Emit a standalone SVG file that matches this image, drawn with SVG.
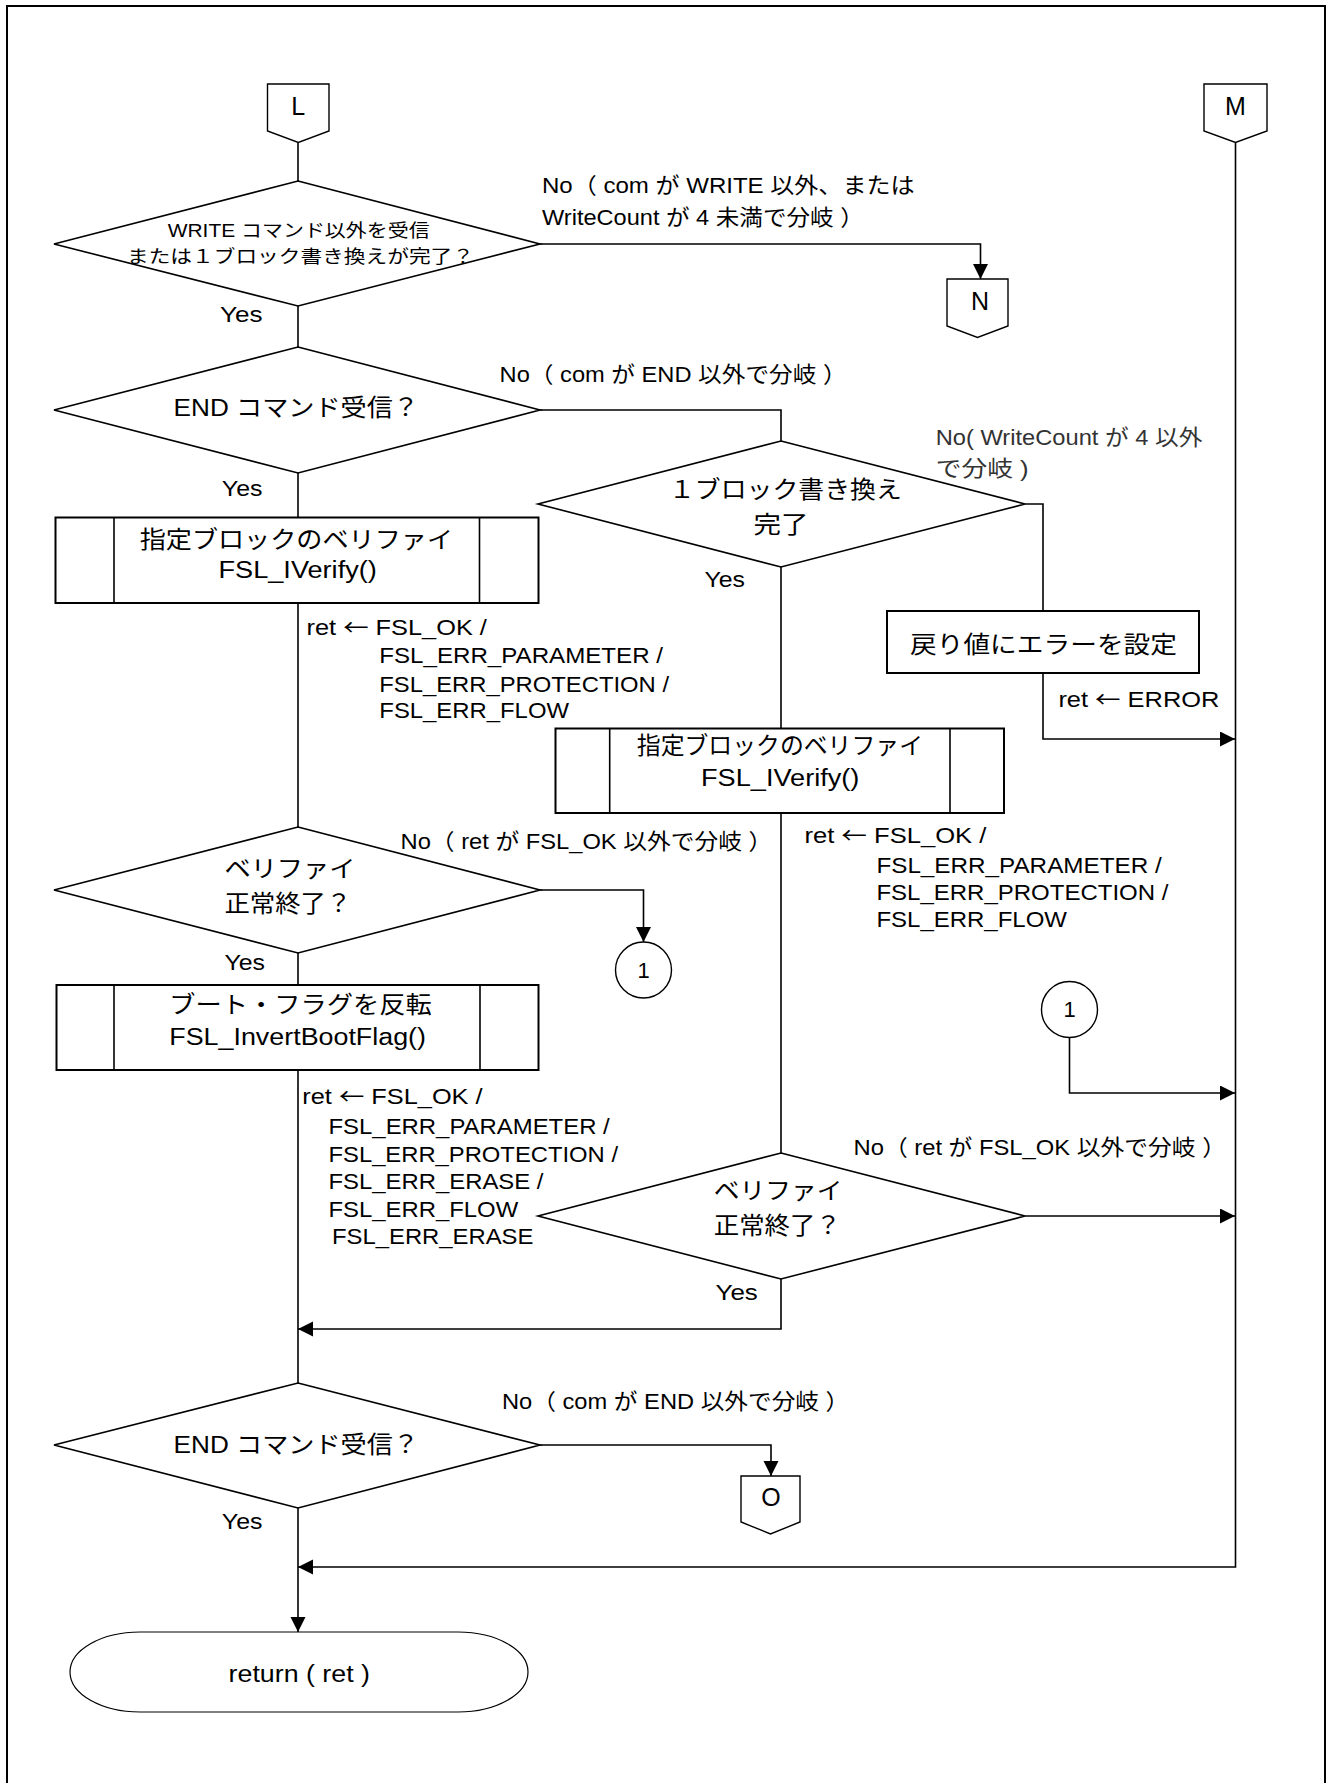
<svg xmlns="http://www.w3.org/2000/svg" width="1327" height="1783" viewBox="0 0 1327 1783">
<style>
text{font-family:"Liberation Sans","Noto Sans CJK JP",sans-serif;fill:#000}
.lb{font-size:22px}
.nt{font-size:23.5px}
.sm{font-size:18px}
.cn{font-size:25px;text-anchor:middle}
.cc{font-size:22px;text-anchor:middle}
.ar{font-family:"Noto Sans CJK JP",sans-serif}
.dia{fill:#fff;stroke:#000;stroke-width:1.6}
.box{fill:#fff;stroke:#000;stroke-width:2}
.inner{stroke:#000;stroke-width:1.6}
.off{fill:#fff;stroke:#000;stroke-width:1.4}
.edge{fill:none;stroke:#000;stroke-width:1.6}
.gray{fill:#333}
</style>
<defs>
<marker id="ah" markerUnits="userSpaceOnUse" markerWidth="16" markerHeight="16" refX="15" refY="7.5" orient="auto">
<path d="M0,0 L15,7.5 L0,15 Z" fill="#000"/>
</marker>
</defs>
<rect x="7" y="6" width="1318" height="1800" fill="#fff" stroke="#000" stroke-width="2"/>

<g id="connectors">
<path class="edge" d="M298,142.5 V181"/>
<path class="edge" d="M540,244 H980.5 V279" marker-end="url(#ah)"/>
<path class="edge" d="M298,306 V347"/>
<path class="edge" d="M540,410 H781 V441"/>
<path class="edge" d="M298,473 V517.5"/>
<path class="edge" d="M1025,504 H1043 V611"/>
<path class="edge" d="M781,567 V728.5"/>
<path class="edge" d="M1043,673 V739 H1235" marker-end="url(#ah)"/>
<path class="edge" d="M298,603 V827"/>
<path class="edge" d="M540,890 H643.5 V942" marker-end="url(#ah)"/>
<path class="edge" d="M298,953 V985"/>
<path class="edge" d="M781,813 V1153"/>
<path class="edge" d="M1069.5,1037.5 V1093 H1235" marker-end="url(#ah)"/>
<path class="edge" d="M1025,1216 H1235" marker-end="url(#ah)"/>
<path class="edge" d="M781,1279 V1329 H298" stroke-width="2" marker-end="url(#ah)"/>
<path class="edge" d="M298,1070 V1383"/>
<path class="edge" d="M540,1445 H771 V1476" marker-end="url(#ah)"/>
<path class="edge" d="M298,1508 V1632" marker-end="url(#ah)"/>
<path class="edge" d="M1235.5,142.5 V1567 H298" stroke-width="2" marker-end="url(#ah)"/>
</g>

<g id="conn-L">
<polygon class="off" points="267.5,84 329,84 329,131 298.3,142.5 267.5,131"/>
<text class="cn" x="298.3" y="115">L</text>
</g>
<g id="conn-M">
<polygon class="off" points="1204,84 1267,84 1267,131 1235.5,142.5 1204,131"/>
<text class="cn" x="1235.5" y="115">M</text>
</g>
<g id="conn-N">
<polygon class="off" points="947,279 1008,279 1008,326 977.5,337.5 947,326"/>
<text class="cn" x="980" y="310">N</text>
</g>
<g id="conn-O">
<polygon class="off" points="741,1476 800,1476 800,1522 770.5,1534 741,1522"/>
<text class="cn" x="771" y="1506">O</text>
</g>

<g id="d1">
<polygon class="dia" points="298,181 540,244 298,306 54,244"/>
<text class="sm" x="167.7" y="237" textLength="262" lengthAdjust="spacingAndGlyphs">WRITE コマンド以外を受信</text>
<text class="sm" x="127" y="263" textLength="347" lengthAdjust="spacingAndGlyphs">または１ブロック書き換えが完了？</text>
</g>
<g id="d2">
<polygon class="dia" points="298,347 540,410 298,473 54,410"/>
<text class="nt" x="173.6" y="416" textLength="245.4" lengthAdjust="spacingAndGlyphs">END コマンド受信？</text>
</g>
<g id="d3">
<polygon class="dia" points="781,441 1025,504 781,567 538,504"/>
<text class="nt" x="669" y="498" textLength="232.8" lengthAdjust="spacingAndGlyphs">１ブロック書き換え</text>
<text class="nt" x="753.6" y="533" textLength="55" lengthAdjust="spacingAndGlyphs">完了</text>
</g>
<g id="b1">
<rect class="box" x="55.5" y="517.5" width="483" height="85.5"/>
<line class="inner" x1="114" y1="517.5" x2="114" y2="603"/>
<line class="inner" x1="479.5" y1="517.5" x2="479.5" y2="603"/>
<text class="nt" x="139.7" y="548" textLength="313.3" lengthAdjust="spacingAndGlyphs">指定ブロックのベリファイ</text>
<text class="nt" x="218.5" y="577.5" textLength="158.3" lengthAdjust="spacingAndGlyphs">FSL_IVerify()</text>
</g>
<g id="b4">
<rect class="box" x="887" y="611" width="312" height="62"/>
<text class="nt" x="910" y="652.6" font-size="24" textLength="267" lengthAdjust="spacingAndGlyphs">戻り値にエラーを設定</text>
</g>
<g id="b2">
<rect class="box" x="555.5" y="728.5" width="448.5" height="84.5"/>
<line class="inner" x1="609.7" y1="728.5" x2="609.7" y2="813"/>
<line class="inner" x1="950" y1="728.5" x2="950" y2="813"/>
<text class="nt" x="636.8" y="754" textLength="286.2" lengthAdjust="spacingAndGlyphs">指定ブロックのベリファイ</text>
<text class="nt" x="701" y="786" textLength="158.4" lengthAdjust="spacingAndGlyphs">FSL_IVerify()</text>
</g>
<g id="d4">
<polygon class="dia" points="298,827 540,890 298,953 54,890"/>
<text class="nt" x="224.4" y="877" textLength="131.2" lengthAdjust="spacingAndGlyphs">ベリファイ</text>
<text class="nt" x="224.4" y="912" textLength="127" lengthAdjust="spacingAndGlyphs">正常終了？</text>
</g>
<g id="c1">
<circle class="off" cx="643.5" cy="970" r="28"/>
<text class="cc" x="643.5" y="977.5">1</text>
</g>
<g id="c2">
<circle class="off" cx="1069.5" cy="1009.5" r="28"/>
<text class="cc" x="1069.5" y="1017">1</text>
</g>
<g id="b3">
<rect class="box" x="56.5" y="985" width="482" height="85"/>
<line class="inner" x1="114" y1="985" x2="114" y2="1070"/>
<line class="inner" x1="480" y1="985" x2="480" y2="1070"/>
<text class="nt" x="169.3" y="1013" textLength="262.5" lengthAdjust="spacingAndGlyphs">ブート・フラグを反転</text>
<text class="nt" x="169.3" y="1044.5" textLength="256.7" lengthAdjust="spacingAndGlyphs">FSL_InvertBootFlag()</text>
</g>
<g id="d5">
<polygon class="dia" points="781,1153 1025,1216 781,1279 538,1216"/>
<text class="nt" x="713.8" y="1199" textLength="128.7" lengthAdjust="spacingAndGlyphs">ベリファイ</text>
<text class="nt" x="713.8" y="1234" textLength="127" lengthAdjust="spacingAndGlyphs">正常終了？</text>
</g>
<g id="d6">
<polygon class="dia" points="298,1383 540,1445 298,1508 54,1445"/>
<text class="nt" x="173.6" y="1452.7" textLength="245.4" lengthAdjust="spacingAndGlyphs">END コマンド受信？</text>
</g>
<g id="term">
<path d="M140,1632 H458 A70,40 0 0 1 458,1712 H140 A70,40 0 0 1 140,1632 Z" fill="#fff" stroke="#000" stroke-width="1.2"/>
<text class="nt" x="228.6" y="1681.7" textLength="141.4" lengthAdjust="spacingAndGlyphs">return ( ret )</text>
</g>

<g id="labels">
<text class="lb" x="542" y="193" textLength="372.5" lengthAdjust="spacingAndGlyphs">No（ com が WRITE 以外、または</text>
<text class="lb" x="542" y="225" textLength="321.7" lengthAdjust="spacingAndGlyphs">WriteCount が 4 未満で分岐 ）</text>
<text class="lb" x="220" y="321.7" textLength="42.5" lengthAdjust="spacingAndGlyphs">Yes</text>
<text class="lb" x="499.6" y="381.7" textLength="347" lengthAdjust="spacingAndGlyphs">No（ com が END 以外で分岐 ）</text>
<text class="lb gray" x="935.7" y="445" font-size="21" textLength="266.7" lengthAdjust="spacingAndGlyphs">No( WriteCount が 4 以外</text>
<text class="lb gray" x="935.7" y="476" font-size="21" textLength="93" lengthAdjust="spacingAndGlyphs">で分岐 )</text>
<text class="lb" x="221.8" y="496" textLength="40.7" lengthAdjust="spacingAndGlyphs">Yes</text>
<text class="lb" x="704.5" y="586.7" textLength="40.5" lengthAdjust="spacingAndGlyphs">Yes</text>
<text class="lb" x="306.5" y="635" textLength="180.4" lengthAdjust="spacingAndGlyphs">ret <tspan class="ar">←</tspan> FSL_OK /</text>
<text class="lb" x="379.3" y="663.3" textLength="283.7" lengthAdjust="spacingAndGlyphs">FSL_ERR_PARAMETER /</text>
<text class="lb" x="379.3" y="691.7" textLength="289.7" lengthAdjust="spacingAndGlyphs">FSL_ERR_PROTECTION /</text>
<text class="lb" x="379.3" y="718.3" textLength="189.7" lengthAdjust="spacingAndGlyphs">FSL_ERR_FLOW</text>
<text class="lb" x="1058.4" y="706.7" textLength="161" lengthAdjust="spacingAndGlyphs">ret <tspan class="ar">←</tspan> ERROR</text>
<text class="lb" x="400.5" y="849.3" textLength="371.7" lengthAdjust="spacingAndGlyphs">No（ ret が FSL_OK 以外で分岐 ）</text>
<text class="lb" x="224.4" y="970" textLength="40.6" lengthAdjust="spacingAndGlyphs">Yes</text>
<text class="lb" x="804.4" y="843.3" textLength="182" lengthAdjust="spacingAndGlyphs">ret <tspan class="ar">←</tspan> FSL_OK /</text>
<text class="lb" x="876.4" y="872.7" textLength="285.3" lengthAdjust="spacingAndGlyphs">FSL_ERR_PARAMETER /</text>
<text class="lb" x="876.4" y="900" textLength="292" lengthAdjust="spacingAndGlyphs">FSL_ERR_PROTECTION /</text>
<text class="lb" x="876.4" y="927.3" textLength="190.6" lengthAdjust="spacingAndGlyphs">FSL_ERR_FLOW</text>
<text class="lb" x="302.3" y="1104" textLength="180.3" lengthAdjust="spacingAndGlyphs">ret <tspan class="ar">←</tspan> FSL_OK /</text>
<text class="lb" x="328.5" y="1134.3" textLength="281.2" lengthAdjust="spacingAndGlyphs">FSL_ERR_PARAMETER /</text>
<text class="lb" x="328.5" y="1161.7" textLength="289.5" lengthAdjust="spacingAndGlyphs">FSL_ERR_PROTECTION /</text>
<text class="lb" x="328.5" y="1189.3" textLength="215" lengthAdjust="spacingAndGlyphs">FSL_ERR_ERASE /</text>
<text class="lb" x="328.5" y="1216.7" textLength="189.7" lengthAdjust="spacingAndGlyphs">FSL_ERR_FLOW</text>
<text class="lb" x="332" y="1244" textLength="201.4" lengthAdjust="spacingAndGlyphs">FSL_ERR_ERASE</text>
<text class="lb" x="853.5" y="1155" textLength="372.5" lengthAdjust="spacingAndGlyphs">No（ ret が FSL_OK 以外で分岐 ）</text>
<text class="lb" x="715.5" y="1300" textLength="42.3" lengthAdjust="spacingAndGlyphs">Yes</text>
<text class="lb" x="502" y="1409.3" textLength="347.3" lengthAdjust="spacingAndGlyphs">No（ com が END 以外で分岐 ）</text>
<text class="lb" x="221.8" y="1529.3" textLength="40.7" lengthAdjust="spacingAndGlyphs">Yes</text>
</g>
</svg>
